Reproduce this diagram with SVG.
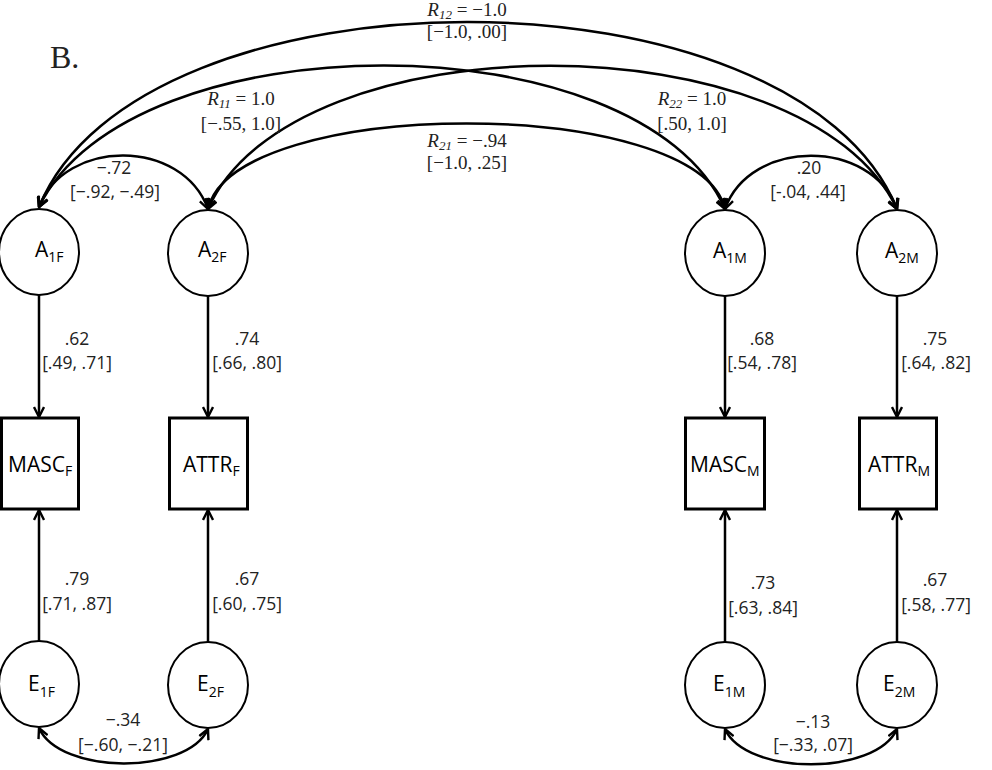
<svg xmlns="http://www.w3.org/2000/svg" width="992" height="770" viewBox="0 0 992 770">
<style>
.node{fill:#fff;stroke:#000;stroke-width:2}
.box{fill:#fff;stroke:#000;stroke-width:3}
.c{fill:none;stroke:#000;stroke-width:2.5}
.nl{font-family:"Open Sans","Liberation Sans",sans-serif;font-size:21px;fill:#000}
.sub{font-size:14px}
.el{font-family:"Open Sans","Liberation Sans",sans-serif;font-size:17.5px;fill:#222;text-anchor:middle}
.rl{font-family:"Liberation Serif","DejaVu Serif",serif;font-size:19px;fill:#222;text-anchor:middle}
.it{font-style:italic}
.rs{font-style:italic;font-size:13px}
</style>
<defs>
<marker id="ah" viewBox="0 0 12 12" refX="11" refY="6" markerWidth="12" markerHeight="12" markerUnits="userSpaceOnUse" orient="auto-start-reverse">
<path d="M1,1 L11,6 L1,11" fill="none" stroke="#000" stroke-width="2.4" stroke-linejoin="miter"/>
</marker>
</defs>
<rect width="992" height="770" fill="#fff"/>
<text x="50" y="68" font-family="Liberation Serif,serif" font-size="32" fill="#222">B.</text>

<g id="connectors">
<path class="c" d="M39,207 C140,-40 796,-40 897,209" marker-start="url(#ah)" marker-end="url(#ah)"/>
<path class="c" d="M39,207 C130,18 640,18 725,209" marker-start="url(#ah)" marker-end="url(#ah)"/>
<path class="c" d="M208,209 C293,18 806,18 897,209" marker-start="url(#ah)" marker-end="url(#ah)"/>
<path class="c" d="M208,209 C235,95 698,95 725,209" marker-start="url(#ah)" marker-end="url(#ah)"/>
<path class="c" d="M39,207 C65,138 182,138 208,209" marker-start="url(#ah)" marker-end="url(#ah)"/>
<path class="c" d="M725,209 C750,138 872,138 897,209" marker-start="url(#ah)" marker-end="url(#ah)"/>
<path class="c" d="M39,728 C60,775 187,775 208,729" marker-start="url(#ah)" marker-end="url(#ah)"/>
<path class="c" d="M725,729 C746,776 876,776 897,729" marker-start="url(#ah)" marker-end="url(#ah)"/>
<line class="c" x1="39" y1="295" x2="39" y2="417" marker-end="url(#ah)"/>
<line class="c" x1="208" y1="296" x2="208" y2="417" marker-end="url(#ah)"/>
<line class="c" x1="725" y1="296" x2="725" y2="417" marker-end="url(#ah)"/>
<line class="c" x1="897" y1="296" x2="897" y2="417" marker-end="url(#ah)"/>
<line class="c" x1="39" y1="641" x2="39" y2="510" marker-end="url(#ah)"/>
<line class="c" x1="208" y1="642" x2="208" y2="510" marker-end="url(#ah)"/>
<line class="c" x1="725" y1="642" x2="725" y2="510" marker-end="url(#ah)"/>
<line class="c" x1="897" y1="642" x2="897" y2="510" marker-end="url(#ah)"/>
</g>

<g id="A1F"><ellipse class="node" cx="39" cy="252" rx="40" ry="43"/><text class="nl" x="35" y="257">A<tspan class="sub" dy="5">1F</tspan></text></g>
<g id="A2F"><ellipse class="node" cx="208" cy="253" rx="40" ry="43"/><text class="nl" x="198" y="257">A<tspan class="sub" dy="5">2F</tspan></text></g>
<g id="A1M"><ellipse class="node" cx="725" cy="253" rx="40" ry="43"/><text class="nl" x="713" y="258">A<tspan class="sub" dy="5">1M</tspan></text></g>
<g id="A2M"><ellipse class="node" cx="897" cy="253" rx="40" ry="43"/><text class="nl" x="885" y="258">A<tspan class="sub" dy="5">2M</tspan></text></g>

<g id="MASCF"><rect class="box" x="1.5" y="418" width="77" height="91"/><text class="nl" x="8" y="472">MASC<tspan class="sub" dy="4">F</tspan></text></g>
<g id="ATTRF"><rect class="box" x="169.5" y="418" width="78" height="91"/><text class="nl" x="183" y="472">ATTR<tspan class="sub" dy="4">F</tspan></text></g>
<g id="MASCM"><rect class="box" x="685.5" y="418" width="79" height="91"/><text class="nl" x="690" y="472">MASC<tspan class="sub" dy="4">M</tspan></text></g>
<g id="ATTRM"><rect class="box" x="859.5" y="418" width="77" height="91"/><text class="nl" x="868" y="472">ATTR<tspan class="sub" dy="4">M</tspan></text></g>

<g id="E1F"><ellipse class="node" cx="39" cy="684" rx="40" ry="43"/><text class="nl" x="28" y="691">E<tspan class="sub" dy="6">1F</tspan></text></g>
<g id="E2F"><ellipse class="node" cx="208" cy="685" rx="40" ry="43"/><text class="nl" x="197" y="691">E<tspan class="sub" dy="6">2F</tspan></text></g>
<g id="E1M"><ellipse class="node" cx="725" cy="685" rx="40" ry="43"/><text class="nl" x="713" y="691">E<tspan class="sub" dy="6">1M</tspan></text></g>
<g id="E2M"><ellipse class="node" cx="897" cy="685" rx="40" ry="43"/><text class="nl" x="883" y="691">E<tspan class="sub" dy="6">2M</tspan></text></g>

<g id="labels">
<text class="rl" x="467" y="16"><tspan class="it">R</tspan><tspan class="rs" dy="3">12</tspan><tspan dy="-3"> = −1.0</tspan></text>
<text class="rl" x="467" y="38">[−1.0, .00]</text>
<text class="rl" x="241" y="105"><tspan class="it">R</tspan><tspan class="rs" dy="3">11</tspan><tspan dy="-3"> = 1.0</tspan></text>
<text class="rl" x="241" y="130">[−.55, 1.0]</text>
<text class="rl" x="692" y="105"><tspan class="it">R</tspan><tspan class="rs" dy="3">22</tspan><tspan dy="-3"> = 1.0</tspan></text>
<text class="rl" x="692" y="130">[.50, 1.0]</text>
<text class="rl" x="467" y="147"><tspan class="it">R</tspan><tspan class="rs" dy="3">21</tspan><tspan dy="-3"> = −.94</tspan></text>
<text class="rl" x="467" y="169">[−1.0, .25]</text>

<text class="el" x="114" y="174">−.72</text>
<text class="el" x="115" y="198">[−.92, −.49]</text>
<text class="el" x="809" y="174">.20</text>
<text class="el" x="808" y="198">[-.04, .44]</text>

<text class="el" x="77" y="345">.62</text>
<text class="el" x="77" y="369">[.49, .71]</text>
<text class="el" x="247" y="345">.74</text>
<text class="el" x="247" y="369">[.66, .80]</text>
<text class="el" x="762" y="345">.68</text>
<text class="el" x="762" y="369">[.54, .78]</text>
<text class="el" x="935" y="345">.75</text>
<text class="el" x="936" y="369">[.64, .82]</text>

<text class="el" x="77" y="585">.79</text>
<text class="el" x="77" y="610">[.71, .87]</text>
<text class="el" x="247" y="585">.67</text>
<text class="el" x="247" y="610">[.60, .75]</text>
<text class="el" x="763" y="589">.73</text>
<text class="el" x="763" y="614">[.63, .84]</text>
<text class="el" x="935" y="586">.67</text>
<text class="el" x="936" y="611">[.58, .77]</text>

<text class="el" x="123" y="726">−.34</text>
<text class="el" x="123" y="751">[−.60, −.21]</text>
<text class="el" x="813" y="728">−.13</text>
<text class="el" x="813" y="751">[−.33, .07]</text>
</g>
</svg>
